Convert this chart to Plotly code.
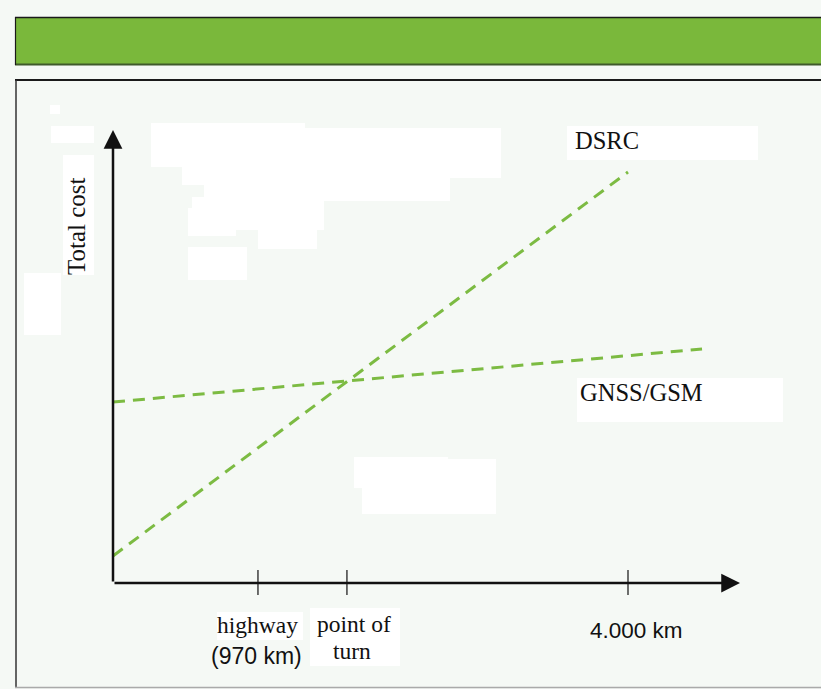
import plotly.graph_objects as go

W, H = 821, 689

# ---- data (km along x, cost in arbitrary units along y) ----
dsrc_x = [0, 4000]
dsrc_y = [27, 411]
gnss_x = [0, 4575]
gnss_y = [181, 234]
tick_pos = [1126, 1817, 4000]
x_axis_end = 4870
y_axis_end = 453
series_names = ["DSRC", "GNSS/GSM"]

# pixel <-> data mapping helpers (plot area == whole figure)
X0_PX, XSCALE = 113, 515 / 4000
Y0_PX = 583
x_range = [(0 - X0_PX) / XSCALE, (W - X0_PX) / XSCALE]
y_range = [Y0_PX - H, Y0_PX]


def pxx(p):
    return p / W


def pxy(p):
    return 1 - p / H


BG = "#f5f9f5"
GREEN = "#7cbb42"
SERIF = "Liberation Serif, Times New Roman, serif"
SANS = "Liberation Sans, Arial, sans-serif"

fig = go.Figure()

# series lines
fig.add_trace(go.Scatter(x=dsrc_x, y=dsrc_y, mode="lines", name=series_names[0],
                         line=dict(color=GREEN, width=3, dash="12px,8px"), hoverinfo="skip"))
fig.add_trace(go.Scatter(x=gnss_x, y=gnss_y, mode="lines", name=series_names[1],
                         line=dict(color=GREEN, width=3, dash="12px,8px"), hoverinfo="skip"))

# tick marks
tx, ty = [], []
for t in tick_pos:
    tx += [t, t, None]
    ty += [13, -12, None]
fig.add_trace(go.Scatter(x=tx, y=ty, mode="lines", line=dict(color="#111", width=1.2),
                         hoverinfo="skip", showlegend=False))

shapes = []
# green header bar
shapes.append(dict(type="rect", xref="paper", yref="paper", x0=pxx(15), x1=1.02,
                   y0=pxy(65), y1=pxy(17), fillcolor="#7ab83b", line=dict(width=0), layer="below"))
shapes.append(dict(type="line", xref="paper", yref="paper", x0=pxx(15), x1=1.02,
                   y0=pxy(17.5), y1=pxy(17.5), line=dict(color="#1a1a1a", width=1.5)))
shapes.append(dict(type="line", xref="paper", yref="paper", x0=pxx(15), x1=1.02,
                   y0=pxy(64.5), y1=pxy(64.5), line=dict(color="#3f5a2a", width=2)))
shapes.append(dict(type="line", xref="paper", yref="paper", x0=pxx(15.5), x1=pxx(15.5),
                   y0=pxy(17), y1=pxy(65), line=dict(color="#1a1a1a", width=1.2)))
# content box
shapes.append(dict(type="line", xref="paper", yref="paper", x0=pxx(15), x1=1.02,
                   y0=pxy(80), y1=pxy(80), line=dict(color="#1a1a1a", width=1.8)))
shapes.append(dict(type="line", xref="paper", yref="paper", x0=pxx(16), x1=pxx(16),
                   y0=pxy(80), y1=pxy(688), line=dict(color="#333", width=1.5)))
shapes.append(dict(type="line", xref="paper", yref="paper", x0=pxx(15), x1=1.02,
                   y0=pxy(687.5), y1=pxy(687.5), line=dict(color="#aaaaaa", width=1.5)))

# white patches
patches = [
    (50, 105, 60, 114), (51, 126, 94, 143), (63, 155, 94, 275), (24, 273, 61, 335),
    (151, 123, 305, 167), (305, 128, 501, 178), (182, 167, 450, 185), (204, 185, 450, 201),
    (192, 197, 324, 208), (188, 208, 324, 230), (258, 230, 317, 249), (188, 230, 236, 236),
    (188, 247, 247, 280), (354, 457, 448, 488), (362, 459, 496, 514),
    (567, 126, 758, 160), (577, 378, 783, 422), (217, 612, 303, 640), (310, 608, 400, 666),
]
for x0, y0, x1, y1 in patches:
    shapes.append(dict(type="rect", xref="paper", yref="paper", x0=pxx(x0), x1=pxx(x1),
                       y0=pxy(y1), y1=pxy(y0), fillcolor="white", line=dict(width=0),
                       layer="below"))

annotations = []
# axes with arrowheads
annotations.append(dict(x=x_axis_end, y=0, ax=0, ay=0, xref="x", yref="y", axref="x", ayref="y",
                        text="", showarrow=True, arrowhead=2, arrowsize=1.5, arrowwidth=2.5,
                        arrowcolor="#111", standoff=0, startstandoff=0))
annotations.append(dict(x=0, y=y_axis_end, ax=0, ay=0, xref="x", yref="y", axref="x", ayref="y",
                        text="", showarrow=True, arrowhead=2, arrowsize=1.5, arrowwidth=2.5,
                        arrowcolor="#111", standoff=0, startstandoff=0))


def label(text, x, y, family, size, xref="paper", xanchor="center", xshift=0, angle=0):
    return dict(text=text, xref=xref, yref="paper", x=x, y=pxy(y), xanchor=xanchor,
                yanchor="middle", xshift=xshift, textangle=angle, showarrow=False,
                font=dict(family=family, size=size, color="#111"))


annotations += [
    label("Total cost", pxx(77), 226, SERIF, 25, angle=-90),
    label(series_names[0], pxx(573), 140, SERIF, 24.5, xanchor="left"),
    label(series_names[1], pxx(578), 392, SERIF, 24.5, xanchor="left"),
    label("highway", tick_pos[0], 625, SERIF, 23.5, xref="x"),
    label("(970 km)", tick_pos[0], 656, SANS, 23, xref="x", xshift=-1),
    label("point of", tick_pos[1], 624, SERIF, 23.5, xref="x", xshift=7),
    label("turn", tick_pos[1], 651, SERIF, 23.5, xref="x", xshift=5),
    label("4.000 km", tick_pos[2], 630, SANS, 22.5, xref="x", xshift=8),
]

fig.update_layout(
    width=W, height=H,
    margin=dict(l=0, r=0, t=0, b=0),
    paper_bgcolor=BG, plot_bgcolor=BG,
    showlegend=False,
    xaxis=dict(range=x_range, visible=False, fixedrange=True),
    yaxis=dict(range=y_range, visible=False, fixedrange=True),
    shapes=shapes,
    annotations=annotations,
)

fig.write_html("out.html", config={"displayModeBar": False},
               post_script="document.body.style.margin='0px';document.body.style.padding='0px';"
                           "document.body.style.overflow='hidden';")
